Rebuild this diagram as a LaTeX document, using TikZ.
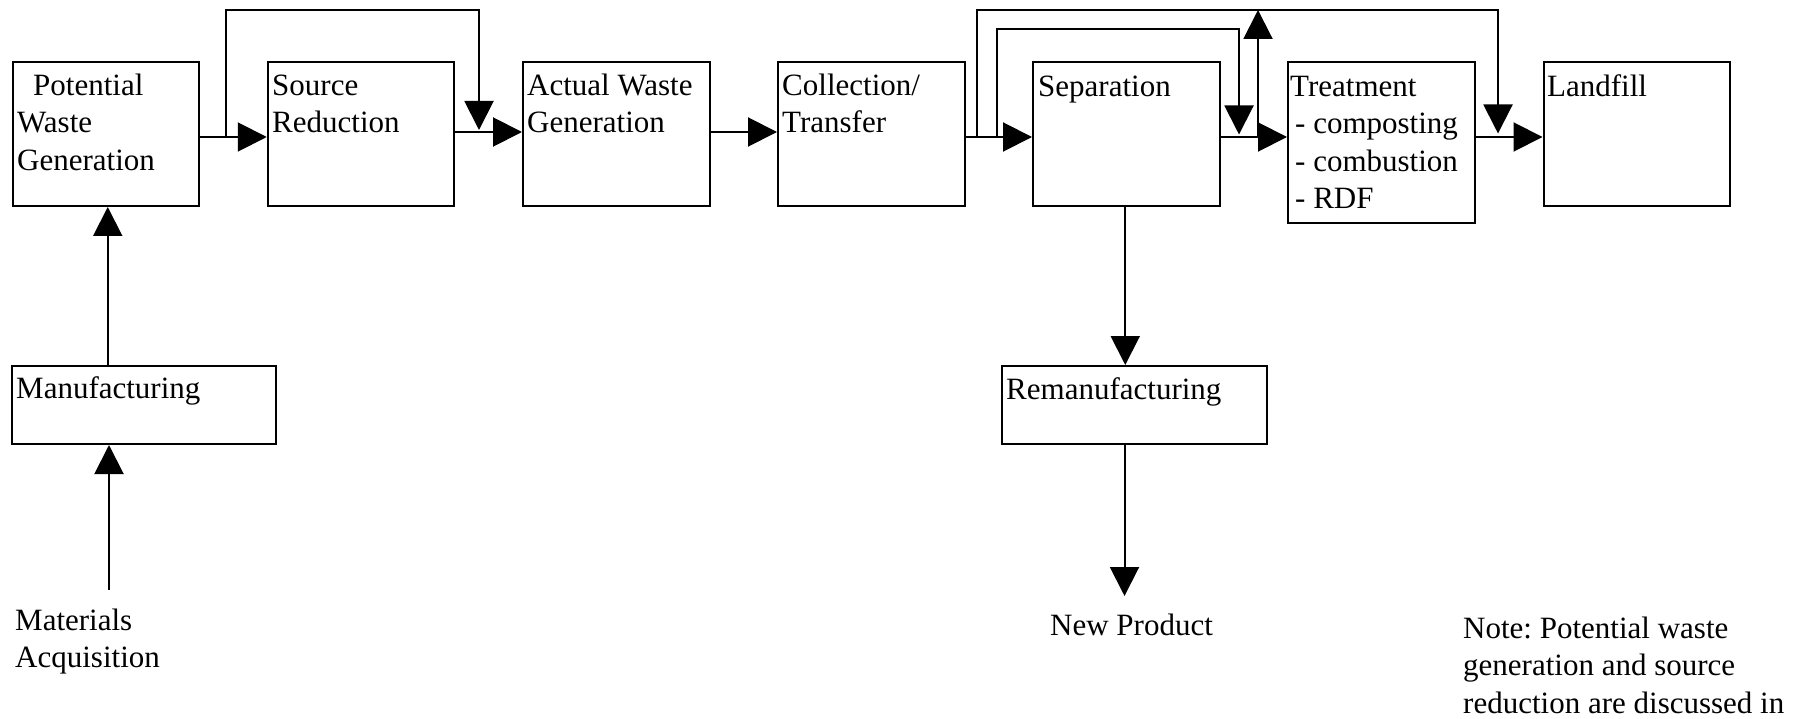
\documentclass[tikz,border=0pt]{standalone}
\usepackage{fontspec}
\setmainfont{Liberation Serif}
\usetikzlibrary{arrows.meta,calc}
\begin{document}
\frenchspacing
\begin{tikzpicture}[x=1pt,y=-1pt,
  box/.style={draw,line width=2pt,anchor=north west,inner sep=0pt,minimum width=186.5pt,minimum height=144pt},
  wbox/.style={box,minimum width=264pt,minimum height=78pt},
  txt/.style={anchor=north west,inner sep=0pt,align=left,font=\fontsize{31}{37.5}\selectfont\frenchspacing},
  arr/.style={line width=2pt,-{Triangle[length=29pt,width=29pt]}}]
\useasboundingbox (0,0) rectangle (1812,719);
% boxes
\node[box] (pot) at (11.5,61) {};
\node[box] (src) at (266.75,61) {};
\node[box] (act) at (522,61) {};
\node[box] (col) at (777,61) {};
\node[box] (sep) at (1032,61) {};
\node[box,minimum height=161pt] (trt) at (1287,61) {};
\node[box] (lan) at (1542.5,61) {};
\node[wbox] (man) at (11,365) {};
\node[wbox,minimum width=265pt] (rem) at (1001,365) {};
% texts
\node[txt] (tpot) at (17,68.75) {\strut\hspace*{16pt}Potential\\Waste\\Generation};
\node[txt] (tsrc) at (272,68.75) {\strut Source\\Reduction};
\node[txt] (tact) at (527,68.75) {\strut Actual Waste\\Generation};
\node[txt] (tcol) at (782,68.75) {\strut Collection/\\Transfer};
\node[txt] (tsep) at (1038,69.75) {\strut Separation};
\node[txt] (ttrt) at (1290,69.75) {\strut Treatment\\\hspace*{5pt}- composting\\\hspace*{5pt}- combustion\\\hspace*{5pt}- RDF};
\node[txt] (tlan) at (1547,69.75) {\strut Landfill};
\node[txt] (tman) at (16,371.75) {\strut Manufacturing};
\node[txt] (trem) at (1006,372.75) {\strut Remanufacturing};
\node[txt] (tmat) at (15,603.75) {\strut Materials\\Acquisition};
\node[txt] (tnp) at (1050,608.75) {\strut New Product};
\node[txt] (tnote) at (1463,611.75) {\strut Note: Potential waste\\generation and source\\reduction are discussed in};
% coordinates
\coordinate (top) at (0,10);
\coordinate (top2) at (0,29);
\coordinate (j1) at (226,136);
\coordinate (k1) at (479,130);
\coordinate (j2) at (977,136);
\coordinate (k2) at (1498,133.5);
\coordinate (j3) at (997,136);
\coordinate (k3) at (1239,134.5);
\coordinate (j4) at (1258,136);
\coordinate (mat0) at (109,590);
\coordinate (np0) at (1124.5,596);
% main flow
\draw[arr] ([yshift=-3pt]pot.east) -- ([yshift=-3pt]src.west);
\draw[arr] ([yshift=2pt]src.east) -- ([yshift=2pt]act.west);
\draw[arr] ([yshift=2pt]act.east) -- ([yshift=2pt]col.west);
\draw[arr] ([yshift=-3pt]col.east) -- ([yshift=-3pt]sep.west);
\draw[arr] ([yshift=-3pt]sep.east) -- ([yshift=-3pt]sep.east -| trt.west);
\draw[arr] ([yshift=-3pt]lan.west -| trt.east) -- ([yshift=-3pt]lan.west);
% bypass loops
\draw[arr] (j1) -- (j1 |- top) -| (k1);
\draw[arr] (j2) -- (j2 |- top) -| (k2);
\draw[arr] (j3) -- (j3 |- top2) -| (k3);
\draw[arr] (j4) -- (j4 |- top);
% vertical
\draw[arr] ([xshift=2pt]pot.south |- man.north) -- ([xshift=2pt]pot.south);
\draw[arr] (mat0) -- (mat0 |- man.south);
\draw[arr] ([xshift=-1pt]sep.south) -- ([xshift=-1pt]sep.south |- rem.north);
\draw[arr] (np0 |- rem.south) -- (np0);
\end{tikzpicture}
\end{document}
